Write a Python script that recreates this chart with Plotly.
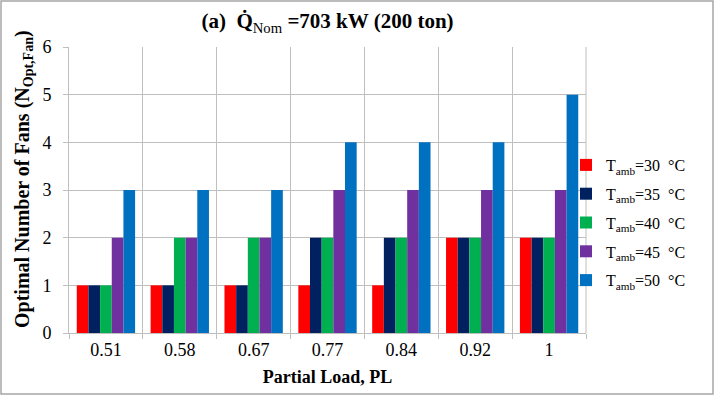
import plotly.graph_objects as go

categories = ["0.51", "0.58", "0.67", "0.77", "0.84", "0.92", "1"]
t30 = [1, 1, 1, 1, 1, 2, 2]
t35 = [1, 1, 1, 2, 2, 2, 2]
t40 = [1, 2, 2, 2, 2, 2, 2]
t45 = [2, 2, 2, 3, 3, 3, 3]
t50 = [3, 3, 3, 4, 4, 4, 5]
series_names = ["T<sub>amb</sub>=30  °C", "T<sub>amb</sub>=35  °C", "T<sub>amb</sub>=40  °C",
                "T<sub>amb</sub>=45  °C", "T<sub>amb</sub>=50  °C"]
colors = ["#FF0000", "#002060", "#00B050", "#7030A0", "#0070C0"]
series = [t30, t35, t40, t45, t50]

W, H = 715, 396
L, R, T, B = 69, 129, 47, 63
pw, ph = W - L - R, H - T - B

font = "Liberation Serif, Times New Roman, serif"
fig = go.Figure()
for i, (name, vals, c) in enumerate(zip(series_names, series, colors)):
    fig.add_trace(go.Bar(x=categories, y=vals, name=name, marker=dict(color=c, line=dict(width=0)),
                         legendgroup=str(i)))

fig.update_layout(
    width=W, height=H,
    margin=dict(l=L, r=R, t=T, b=B, autoexpand=False),
    paper_bgcolor="white", plot_bgcolor="white",
    barmode="group", bargap=0.21, bargroupgap=0,
    font=dict(family=font, color="black", size=18),
    title=dict(text="<b>(a)  Q̇</b><sub>Nom</sub><b> =703 kW (200 ton)</b>", x=(L + pw / 2) / W, xanchor="center",
               y=1 - 21 / H, yanchor="middle", font=dict(size=21, family=font)),
    legend=dict(x=(566 - L) / pw, xanchor="left", y=(H - B - 148) / ph, yanchor="top",
                font=dict(size=16, family=font), tracegroupgap=5, bgcolor="rgba(0,0,0,0)"),
    xaxis=dict(type="category", tickson="boundaries", showgrid=True, gridcolor="#BFBFBF", gridwidth=1,
               showline=True, linecolor="#BFBFBF", ticks="outside", ticklen=5, tickcolor="#BFBFBF",
               tickfont=dict(size=18), mirror=False, automargin=False,
               title=dict(text="<b>Partial Load, PL</b>", font=dict(size=18), standoff=11)),
    yaxis=dict(range=[0, 6], dtick=1, showgrid=True, gridcolor="#BFBFBF", gridwidth=1,
               showline=True, linecolor="#BFBFBF", ticks="outside", ticklen=5, tickcolor="#BFBFBF",
               tickfont=dict(size=18), zeroline=False, automargin=False, ticklabelstandoff=8),
)
fig.add_annotation(text="<b>Optimal Number of Fans (N<sub>Opt,Fan</sub>)</b>", textangle=-90,
                   xref="paper", yref="paper", x=(23 - L) / pw, y=(H - B - 179) / ph,
                   xanchor="center", yanchor="middle", showarrow=False, font=dict(size=20, family=font))
# right border of plot area
fig.add_shape(type="line", xref="paper", yref="paper", x0=1, x1=1, y0=0, y1=1,
              line=dict(color="#BFBFBF", width=1))
# outer frame around the whole figure
fig.add_shape(type="rect", xref="paper", yref="paper",
              x0=(1 - L) / pw, x1=(W - 2 - L) / pw, y0=-(B - 2) / ph, y1=1 + (T - 1) / ph,
              line=dict(color="#A6A6A6", width=1.5))

fig.write_html("out.html", config={"displayModeBar": False},
               post_script="document.body.style.margin='0px';")
